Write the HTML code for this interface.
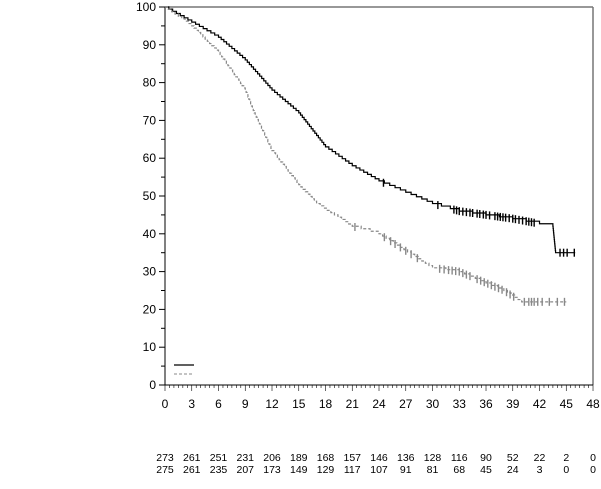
<!DOCTYPE html><html><head><style>body{margin:0;background:#fff}svg{font-family:"Liberation Sans",sans-serif}</style></head><body>
<svg id="s" width="601" height="484" xmlns="http://www.w3.org/2000/svg"></svg>
<script>
const s=document.getElementById('s');let h='';
const X=t=>165+8.917*t, Y=v=>385-3.78*v;
h+=`<line x1="165" y1="7" x2="593" y2="7" stroke="#777" stroke-width="1.5"/><line x1="593" y1="7" x2="593" y2="385" stroke="#777" stroke-width="1.5"/><line x1="165" y1="7" x2="165" y2="385" stroke="#000"/><line x1="165" y1="385" x2="593" y2="385" stroke="#000"/>`;
for(let v=0;v<=100;v+=5){const y=Y(v);h+=`<line x1="${v%10?161:159}" y1="${y}" x2="165" y2="${y}" stroke="#000"/>`;if(v%10==0)h+=`<text x="156" y="${y+4}" font-size="12" text-anchor="end">${v}</text>`;}
for(let t=0;t<=48;t+=0.5){const x=X(t);h+=`<line x1="${x}" y1="385" x2="${x}" y2="${t%3==0?391:388}" stroke="#000" stroke-width="0.6"/>`;if(t%3==0)h+=`<text x="${x}" y="408" font-size="12" text-anchor="middle">${t}</text>`;}
const r1=[273,261,251,231,206,189,168,157,146,136,128,116,90,52,22,2,0],r2=[275,261,235,207,173,149,129,117,107,91,81,68,45,24,3,0,0];
r1.forEach((n,i)=>{h+=`<text x="${X(i*3)}" y="461" font-size="10.5" text-anchor="middle">${n}</text><text x="${X(i*3)}" y="473" font-size="10.5" text-anchor="middle">${r2[i]}</text>`});
function val(pts,t){for(let i=1;i<pts.length;i++){if(t<=pts[i][0]){const[t0,v0]=pts[i-1],[t1,v1]=pts[i];return v0+(v1-v0)*(t-t0)/(t1-t0);}}return pts[pts.length-1][1];}
function km(pts,col,dash,cens){let d='M'+X(pts[0][0])+','+Y(pts[0][1]);
for(let i=1;i<pts.length;i++){const[t0,v0]=pts[i-1],[t1,v1]=pts[i];const n=Math.max(1,Math.round(Math.abs(v0-v1)/0.6));for(let k=1;k<=n;k++){const t=t0+(t1-t0)*k/n,v=v0+(v1-v0)*k/n;d+=`H${X(t)}V${Y(v)}`;}}
d+=`H${X(pts[pts.length-1][0])}`;
h+=`<path d="${d}" fill="none" stroke="${col}" stroke-width="1.2" ${dash?'stroke-dasharray="3,2"':''}/>`;
cens.forEach(t=>{const v=val(pts,t);h+=`<line x1="${X(t)}" y1="${Y(v)-4}" x2="${X(t)}" y2="${Y(v)+4}" stroke="${col}" stroke-width="1.4"/>`;});}
const sP=[[0,100],[3,96],[6,92],[9,86],[12,78],[15,72],[18,63],[21,58],[24,54],[27,51],[30,48],[33,46],[36,45],[39,44],[43.5,42],[43.8,35],[46,35]];
const sC=[24.5,30.6,32.4,32.7,33,33.4,33.8,34.2,34.5,35,35.3,35.7,36,36.4,37,37.3,37.6,37.9,38.2,38.6,39,39.3,39.7,40.1,40.5,40.8,41.1,41.4,44.3,44.7,45.1,45.9];
km(sP,'#000',0,sC);
const dP=[[0,100],[3,95],[6,88],[9,78],[10,72],[12,62],[15,53],[17,48],[21,42],[24,40],[26,37],[30,31],[33,30],[36,27],[38,25],[40,22],[45,22]];
const dC=[21.3,24.6,25.3,25.8,26.4,27,27.6,28.3,30.8,31.3,31.8,32.2,32.6,33,33.4,33.8,34.2,35,35.4,35.8,36.2,36.6,37,37.4,37.8,38.3,38.7,39.1,40.3,40.8,41.1,41.4,41.8,42.3,43.1,44,44.8];
km(dP,'#888',1,dC);
h+=`<line x1="174" y1="365" x2="194" y2="365" stroke="#000" stroke-width="1.3"/><line x1="174" y1="374" x2="194" y2="374" stroke="#888" stroke-dasharray="3,2"/>`;
s.innerHTML=h;
</script></body></html>
